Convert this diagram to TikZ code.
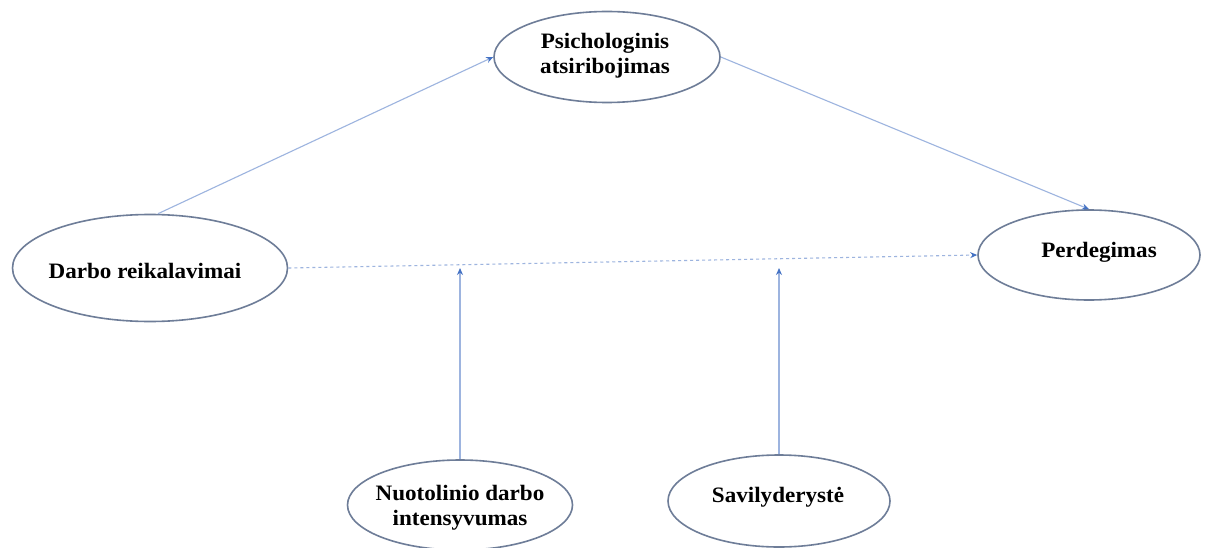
\documentclass[tikz,border=0pt]{standalone}
\usepackage{fontspec}
\setmainfont{Liberation Serif}[FakeStretch=1.05]
\usetikzlibrary{shapes.geometric,arrows.meta}
\definecolor{edgeblue}{HTML}{9DB4DF}
\definecolor{tipblue}{HTML}{4472C4}
\definecolor{ringgrey}{HTML}{6E7D98}
\tikzset{
  ovaltext/.style={font=\fontsize{22}{25}\selectfont\bfseries, align=center},
  oval/.style={ellipse, draw=ringgrey, line width=1.6pt, fill=white, inner sep=0pt, ovaltext},
  link/.style={draw=edgeblue, line width=1.1pt, -{Stealth[length=7pt,width=6pt,color=tipblue]}},
  dlink/.style={link, dash pattern=on 3pt off 3pt}
}
\begin{document}
\begin{tikzpicture}[x=1pt,y=-1pt]
\useasboundingbox (0,0) rectangle (1206,548);
\fill[white] (0,0) rectangle (1206,548);
\node[oval, minimum width=226pt, minimum height=91pt] (psi) at (607,57) {};
\node[ovaltext] (psit) at (605,56) {Psichologinis\\atsiribojimas};
\node[oval, minimum width=275pt, minimum height=107pt] (dar) at (150,268) {};
\node[ovaltext] (dart) at (145,271) {Darbo reikalavimai};
\node[oval, minimum width=222pt, minimum height=90pt] (per) at (1089,255) {};
\node[ovaltext] (pert) at (1099,252) {Perdegimas};
\node[oval, minimum width=225pt, minimum height=90pt] (nuo) at (460,505) {};
\node[ovaltext] (nuot) at (460,508) {Nuotolinio darbo\\intensyvumas};
\node[oval, minimum width=222pt, minimum height=92pt] (sav) at (779,501) {};
\node[ovaltext] (savt) at (778,497) {Savilyderystė};
\coordinate (m1) at (460,268);
\coordinate (m2) at (779,268);
\draw[link] ([xshift=8pt]dar.north) -- (psi.west);
\draw[link] (psi.east) -- (per.north);
\draw[dlink] (dar.east) -- (per.west);
\draw[link] (nuo.north) -- (m1);
\draw[link] (sav.north) -- (m2);
\end{tikzpicture}
\end{document}
